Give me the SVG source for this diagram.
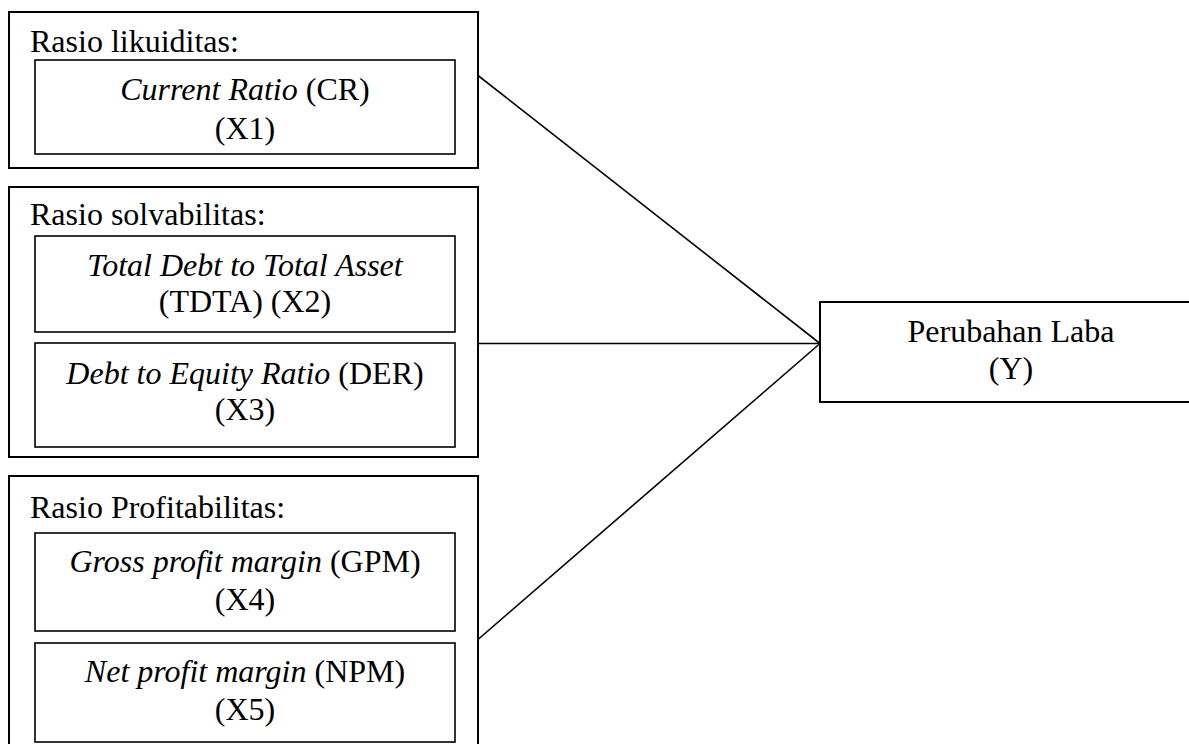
<svg xmlns="http://www.w3.org/2000/svg" width="1189" height="744" viewBox="0 0 1189 744">
<style>
.outer{fill:#fff;stroke:#000;stroke-width:2}
.inner{fill:#fff;stroke:#000;stroke-width:1.6}
.t{font-family:"Liberation Serif","Times New Roman",serif;font-size:32px;fill:#000}
.c{text-anchor:middle}
.i{font-style:italic}
.conn line{stroke:#000;stroke-width:1.6}
</style>
<rect width="1189" height="744" fill="#fff"/>
<g id="conn" class="conn">
<line x1="478" y1="75.5" x2="820" y2="343.5"/>
<line x1="478" y1="343.5" x2="820" y2="343.5"/>
<line x1="478" y1="639.5" x2="820" y2="343.5"/>
</g>
<g id="likuiditas">
<rect class="outer" x="9" y="12" width="469" height="156"/>
<text class="t" x="30" y="51.5">Rasio likuiditas:</text>
<g id="x1">
<rect class="inner" x="35" y="60" width="420" height="94"/>
<text class="t c" x="245" y="99.5"><tspan class="i">Current Ratio</tspan> (CR)</text>
<text class="t c" x="245" y="138.5">(X1)</text>
</g>
</g>
<g id="solvabilitas">
<rect class="outer" x="9" y="187" width="469" height="270"/>
<text class="t" x="30" y="225">Rasio solvabilitas:</text>
<g id="x2">
<rect class="inner" x="35" y="236" width="420" height="96"/>
<text class="t c i" x="245" y="276">Total Debt to Total Asset</text>
<text class="t c" x="245" y="311.5">(TDTA) (X2)</text>
</g>
<g id="x3">
<rect class="inner" x="35" y="343" width="420" height="104"/>
<text class="t c" x="245" y="383.5"><tspan class="i">Debt to Equity Ratio</tspan> (DER)</text>
<text class="t c" x="245" y="420">(X3)</text>
</g>
</g>
<g id="profitabilitas">
<rect class="outer" x="9" y="476" width="469" height="290"/>
<text class="t" x="30" y="517.5">Rasio Profitabilitas:</text>
<g id="x4">
<rect class="inner" x="35" y="533" width="420" height="98"/>
<text class="t c" x="245" y="571.5"><tspan class="i">Gross profit margin</tspan> (GPM)</text>
<text class="t c" x="245" y="610">(X4)</text>
</g>
<g id="x5">
<rect class="inner" x="35" y="643" width="420" height="99"/>
<text class="t c" x="245" y="681.5"><tspan class="i">Net profit margin</tspan> (NPM)</text>
<text class="t c" x="245" y="720">(X5)</text>
</g>
</g>
<g id="y">
<rect class="outer" x="820" y="302" width="382" height="100"/>
<text class="t c" x="1011" y="341.5">Perubahan Laba</text>
<text class="t c" x="1011" y="379">(Y)</text>
</g>
</svg>
